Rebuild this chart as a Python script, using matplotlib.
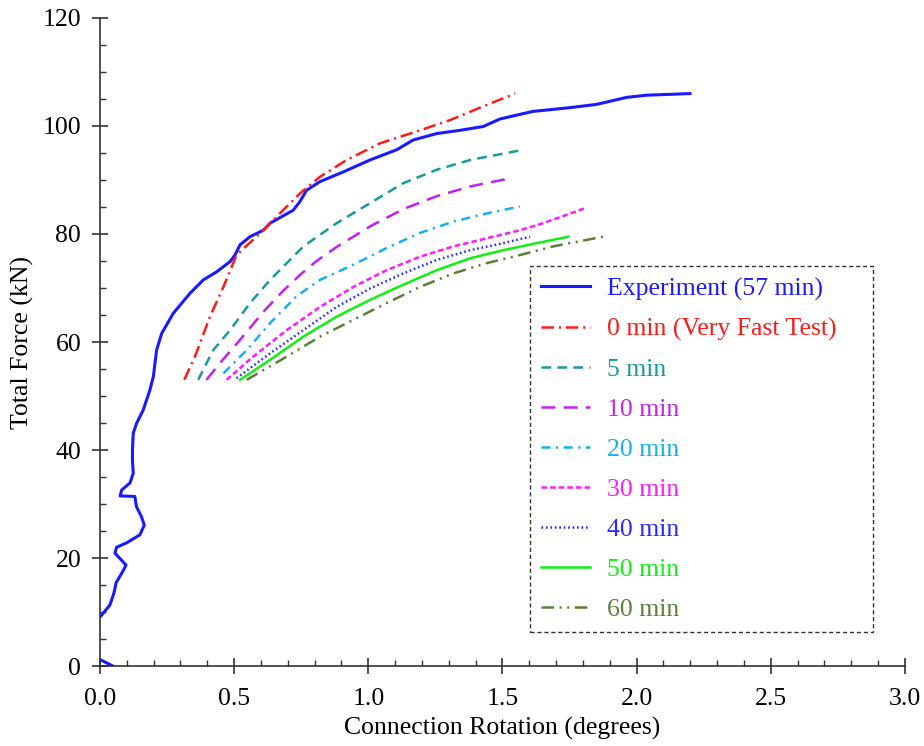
import matplotlib.pyplot as plt
import numpy as np

plt.rcParams['font.family'] = ['Liberation Serif', 'DejaVu Serif']
plt.rcParams['lines.scale_dashes'] = False

# experiment (57 min) - rotation (deg) vs total force (kN), nan = gap in record
exp_rot = [0.048, 0.004, np.nan,
           0.004, 0.037, 0.052, 0.06, 0.087, 0.097, 0.056, 0.062, 0.099, 0.149,
           0.165, 0.155, 0.136, 0.130, 0.075, 0.081, 0.112, 0.124, 0.121, 0.121,
           0.124, 0.136, 0.161, 0.186, 0.199, 0.205, 0.211, 0.23, 0.273, 0.335,
           0.385, 0.435, 0.485, 0.503, 0.522, 0.559, 0.609, 0.634, 0.72, 0.745,
           0.77, 0.82, 0.907, 1.006, 1.106, 1.167, 1.255, 1.342, 1.428, 1.491,
           1.578, 1.614, 1.752, 1.851, 1.963, 2.037, 2.199]
exp_force = [0.0, 1.1, np.nan,
             9.3, 11.3, 13.5, 15.4, 17.7, 18.7, 20.9, 22.0, 22.8, 24.3,
             26.1, 27.6, 29.5, 31.4, 31.5, 32.6, 33.9, 35.7, 38.1, 40.0,
             43.1, 44.9, 47.4, 51.1, 53.6, 56.1, 58.5, 61.6, 65.3, 69.0,
             71.5, 73.0, 74.9, 76.1, 78.0, 79.5, 80.7, 82.0, 84.4, 86.0,
             88.1, 89.7, 91.5, 93.7, 95.6, 97.4, 98.6, 99.2, 99.9, 101.3,
             102.3, 102.7, 103.4, 104.0, 105.3, 105.7, 106.0]

# model runs at different loading durations
rot_0 = [0.314, 0.354, 0.41, 0.46, 0.509, 0.609, 0.664, 0.745, 0.82, 0.919,
         1.044, 1.193, 1.305, 1.441, 1.547]
force_0 = [53.0, 57.3, 64.7, 70.2, 76.1, 80.7, 83.5, 87.5, 90.6, 93.7,
           96.8, 99.2, 101.1, 103.9, 106.0]

rot_5 = [0.366, 0.422, 0.485, 0.559, 0.634, 0.696, 0.758, 0.882, 1.006,
         1.13, 1.255, 1.379, 1.578]
force_5 = [53.0, 58.5, 62.2, 67.2, 71.5, 74.6, 77.7, 82.0, 85.7,
           89.4, 91.9, 93.7, 95.6]

rot_10 = [0.397, 0.447, 0.522, 0.609, 0.683, 0.745, 0.807, 0.882, 1.006,
          1.13, 1.255, 1.379, 1.528]
force_10 = [53.0, 56.1, 60.4, 65.6, 69.5, 72.4, 75.0, 77.6, 81.4,
            84.6, 87.0, 88.8, 90.3]

rot_20 = [0.46, 0.547, 0.634, 0.733, 0.82, 0.944, 1.068, 1.193, 1.317,
          1.441, 1.565]
force_20 = [54.2, 58.5, 63.5, 68.5, 71.5, 74.3, 77.4, 80.2, 82.3,
            83.8, 85.1]

rot_30 = [0.472, 0.571, 0.696, 0.82, 0.944, 1.068, 1.193, 1.317, 1.441,
          1.565, 1.652, 1.814]
force_30 = [53.0, 57.3, 62.2, 66.5, 70.2, 73.3, 75.8, 77.7, 79.2,
            80.7, 82.0, 84.9]

rot_40 = [0.509, 0.634, 0.758, 0.882, 1.006, 1.13, 1.255, 1.379, 1.503, 1.603]
force_40 = [53.3, 57.9, 62.2, 66.5, 69.9, 72.7, 75.2, 77.0, 78.3, 79.5]

rot_50 = [0.522, 0.634, 0.758, 0.882, 1.006, 1.13, 1.255, 1.379, 1.503,
          1.627, 1.746]
force_50 = [53.0, 56.7, 61.0, 64.7, 67.8, 70.6, 73.3, 75.5, 77.0,
            78.3, 79.5]

rot_60 = [0.547, 0.696, 0.82, 0.944, 1.068, 1.193, 1.317, 1.441, 1.565,
          1.689, 1.875]
force_60 = [53.0, 57.3, 61.0, 64.1, 67.2, 70.2, 72.7, 74.6, 76.1,
            77.7, 79.5]

labels = ['Experiment (57 min)', '0 min (Very Fast Test)', '5 min', '10 min',
          '20 min', '30 min', '40 min', '50 min', '60 min']

fs = 18.5

fig = plt.figure(figsize=(9.24, 7.46), dpi=100)
ax = fig.add_axes([0.1082, 0.1072, 0.8712, 0.8687])

ax.plot(exp_rot, exp_force, color='#1a1aff', lw=2.2, label=labels[0])
ax.plot(rot_0, force_0, color='#ff1a1a', lw=1.8, dashes=(9, 3.5, 1.5, 3.5), label=labels[1])
ax.plot(rot_5, force_5, color='#169c9c', lw=1.8, dashes=(7, 4.5), label=labels[2])
ax.plot(rot_10, force_10, color='#c020f0', lw=1.8, dashes=(10, 6), label=labels[3])
ax.plot(rot_20, force_20, color='#12b0f0', lw=1.8, dashes=(6.5, 4, 1.5, 4), label=labels[4])
ax.plot(rot_30, force_30, color='#ff1aff', lw=1.8, dashes=(4, 2.2), label=labels[5])
ax.plot(rot_40, force_40, color='#2a2aff', lw=1.8, dashes=(1.2, 2), label=labels[6])
ax.plot(rot_50, force_50, color='#12f012', lw=1.8, label=labels[7])
ax.plot(rot_60, force_60, color='#5a8038', lw=1.8, dashes=(9, 4, 1.5, 4, 1.5, 4), label=labels[8])

ax.set_xlim(0, 3.0)
ax.set_ylim(0, 120)
ax.set_xticks(np.arange(0, 3.01, 0.5))
ax.set_xticks(np.arange(0, 3.01, 0.1), minor=True)
ax.set_yticks(np.arange(0, 121, 20))
ax.set_yticks(np.arange(0, 121, 5), minor=True)
ax.set_xticklabels(['0.0', '0.5', '1.0', '1.5', '2.0', '2.5', '3.0'])

for side in ['top', 'right']:
    ax.spines[side].set_visible(False)
for side in ['left', 'bottom']:
    ax.spines[side].set_color('#333333')
    ax.spines[side].set_linewidth(1.2)

ax.tick_params(which='major', direction='inout', length=11, width=1.2,
               color='#333333', labelsize=fs)
ax.tick_params(axis='x', which='major', pad=10)
ax.tick_params(axis='y', which='major', pad=8)
ax.tick_params(which='minor', direction='in', length=4, width=1.0, color='#333333')

ax.set_xlabel('Connection Rotation (degrees)', fontsize=fs, labelpad=5)
ax.set_ylabel('Total Force (kN)', fontsize=fs, labelpad=6)

# legend box spans a fixed width, entries stay left aligned inside it
leg = ax.legend(loc='lower left', bbox_to_anchor=(0.534, 0.052, 0.426, 0.5),
                mode='expand', borderaxespad=0,
                fontsize=fs, labelcolor='linecolor', handlelength=1.9,
                handletextpad=0.65, labelspacing=0.66, borderpad=0.45,
                fancybox=False, framealpha=1)
frame = leg.get_frame()
frame.set_linestyle((0, (3, 2)))
frame.set_edgecolor('#333333')
frame.set_linewidth(1.0)

fig.savefig('out.png', dpi=100)
